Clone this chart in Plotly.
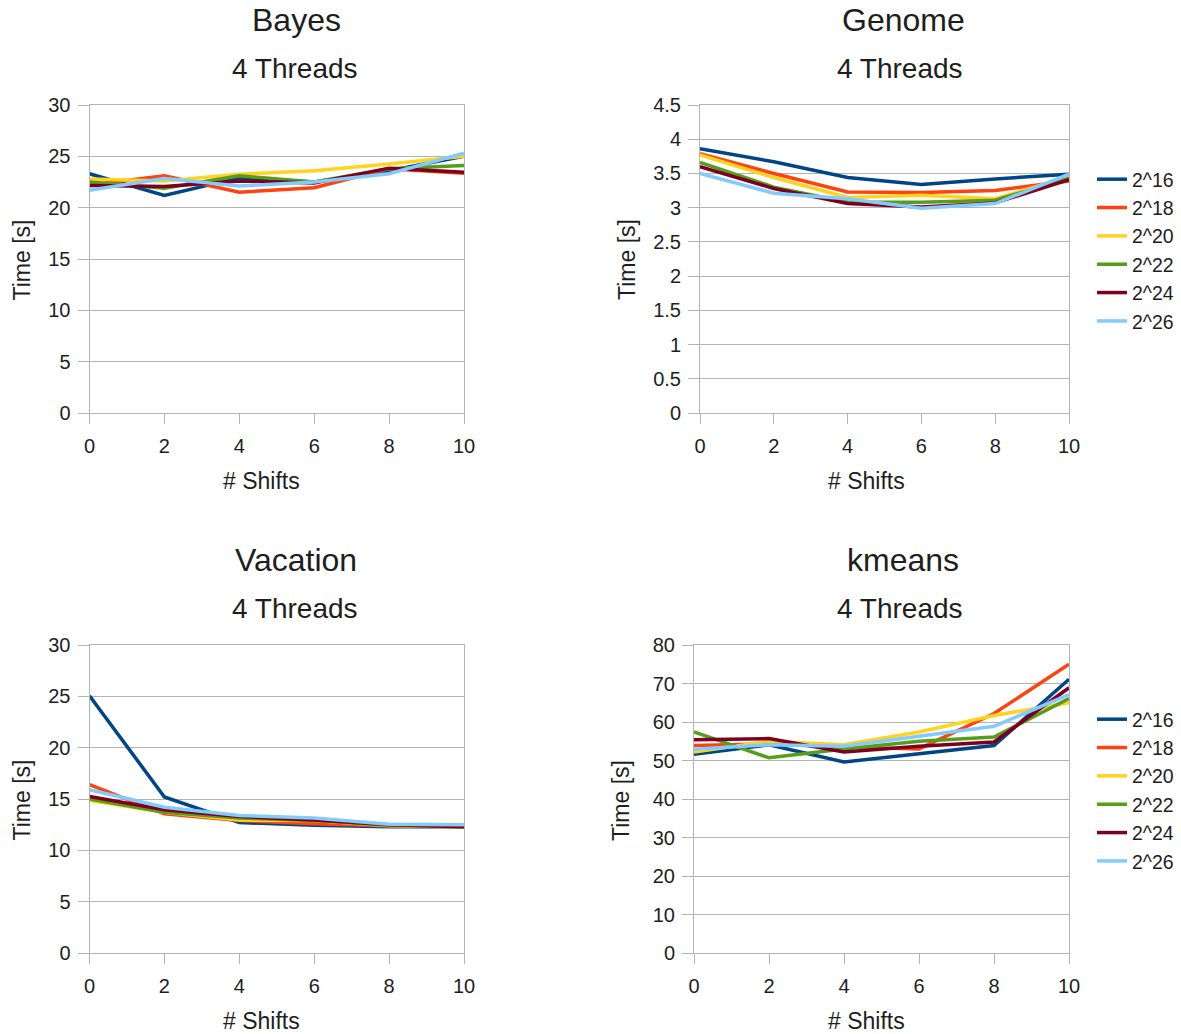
import plotly.graph_objects as go

shifts = [0, 2, 4, 6, 8, 10]
series_names = ["2^16", "2^18", "2^20", "2^22", "2^24", "2^26"]
colors = ["#004586", "#ff420e", "#ffd320", "#579d1c", "#7e0021", "#83caff"]

bayes = [
    [23.3, 21.2, 22.9, 22.5, 23.6, 25.0],
    [22.2, 23.1, 21.5, 21.95, 23.8, 23.35],
    [22.8, 22.6, 23.25, 23.6, 24.25, 25.0],
    [22.5, 21.9, 23.1, 22.5, 23.8, 24.1],
    [22.15, 22.05, 22.6, 22.4, 23.85, 23.45],
    [21.7, 22.85, 22.1, 22.5, 23.3, 25.3],
]
genome = [
    [3.86, 3.67, 3.44, 3.34, 3.42, 3.49],
    [3.79, 3.50, 3.23, 3.22, 3.25, 3.39],
    [3.77, 3.44, 3.15, 3.18, 3.13, 3.45],
    [3.66, 3.30, 3.08, 3.08, 3.11, 3.43],
    [3.60, 3.28, 3.06, 3.01, 3.07, 3.41],
    [3.50, 3.21, 3.13, 2.99, 3.06, 3.49],
]
vacation = [
    [25.05, 15.2, 12.7, 12.45, 12.3, 12.3],
    [16.4, 13.55, 12.9, 12.6, 12.4, 12.3],
    [14.85, 13.7, 12.95, 12.9, 12.4, 12.3],
    [15.0, 13.7, 13.15, 12.9, 12.45, 12.3],
    [15.25, 13.95, 13.3, 12.95, 12.5, 12.3],
    [15.9, 14.2, 13.4, 13.15, 12.55, 12.5],
]
kmeans = [
    [51.6, 54.1, 49.6, 51.7, 53.9, 71.1],
    [53.9, 54.3, 53.5, 53.0, 62.2, 75.0],
    [52.2, 55.0, 54.1, 57.4, 61.7, 65.0],
    [57.4, 50.7, 53.0, 55.0, 56.1, 66.1],
    [55.4, 55.7, 52.2, 53.7, 54.8, 68.9],
    [52.9, 54.1, 53.7, 56.3, 58.9, 67.1],
]

W, H = 1181, 1034
FONT = "Liberation Sans, Arial, sans-serif"
TXT = "#1e1e1e"
GRID = "#b3b3b3"

def px_x(p):
    return p / W

def px_y(p):
    return 1 - p / H

panels = [
    # name, data, x axis id, y axis id, xdom px, ydom px, yrange, dtick, legend, text centers
    ("Bayes", bayes, "x", "y", (89.5, 464), (105, 413), [0, 30], 5, None, (296, 295, 261)),
    ("Genome", genome, "x2", "y2", (700, 1069), (105, 413), [0, 4.5], 0.5, "legend", (903, 900, 866)),
    ("Vacation", vacation, "x3", "y3", (89.5, 464), (645, 953), [0, 30], 5, None, (296, 295, 261)),
    ("kmeans", kmeans, "x4", "y4", (694, 1069), (645, 953), [0, 80], 10, "legend2", (903, 900, 866)),
]

fig = go.Figure()
annotations = []
layout = {}

def ann(text, x, y, size, angle=0):
    return dict(text=text, x=px_x(x), y=px_y(y), xref="paper", yref="paper",
                showarrow=False, xanchor="center", yanchor="middle", textangle=angle,
                font=dict(family=FONT, size=size, color=TXT))

for name, data, xa, ya, xd, yd, yr, dt, leg, centers in panels:
    for i, vals in enumerate(data):
        kw = dict(
            x=shifts, y=vals, mode="lines", name=series_names[i],
            line=dict(color=colors[i], width=3.5),
            xaxis=xa, yaxis=ya, showlegend=leg is not None,
        )
        if leg is not None:
            kw["legend"] = leg
        fig.add_trace(go.Scatter(**kw))
    xkey = "xaxis" + xa[1:]
    ykey = "yaxis" + ya[1:]
    layout[xkey] = dict(
        domain=[px_x(xd[0]), px_x(xd[1])], anchor=ya, range=[0, 10], dtick=2,
        showgrid=False, zeroline=False, showline=True, mirror=True,
        linecolor=GRID, linewidth=1, ticks="outside", ticklen=10,
        tickcolor=GRID, ticklabelstandoff=5,
        tickfont=dict(family=FONT, size=20, color=TXT),
    )
    layout[ykey] = dict(
        domain=[px_y(yd[1]), px_y(yd[0])], anchor=xa, range=yr, dtick=dt,
        showgrid=True, gridcolor=GRID, gridwidth=1, zeroline=False,
        showline=True, mirror=True, linecolor=GRID, linewidth=1,
        ticks="outside", ticklen=11, tickcolor=GRID, ticklabelstandoff=3,
        tickfont=dict(family=FONT, size=20, color=TXT),
    )
    top = yd[0]
    annotations.append(ann(name, centers[0], top - 85, 32))
    annotations.append(ann("4 Threads", centers[1], top - 37, 28))
    annotations.append(ann("# Shifts", centers[2], yd[1] + 68, 23))
    annotations.append(ann("Time [s]", xd[0] - 68 if xd[0] < 300 else xd[0] - 73,
                           (yd[0] + yd[1]) / 2 + 1, 23, -90))

leg_common = dict(xanchor="left", yanchor="middle",
                  font=dict(family=FONT, size=19.5, color=TXT),
                  bgcolor="rgba(0,0,0,0)", tracegroupgap=0, itemwidth=30)

fig.update_layout(
    width=W, height=H,
    margin=dict(l=0, r=0, t=0, b=0, autoexpand=False),
    paper_bgcolor="white", plot_bgcolor="white",
    font=dict(family=FONT, color=TXT),
    annotations=annotations,
    legend=dict(x=px_x(1092), y=px_y(250.5), **leg_common),
    legend2=dict(x=px_x(1092), y=px_y(790.5), **leg_common),
    **layout,
)

fig.write_html(
    "out.html",
    config={"displayModeBar": False},
    post_script="document.body.style.margin='0';document.body.style.padding='0';"
                "document.body.style.overflow='hidden';",
)
